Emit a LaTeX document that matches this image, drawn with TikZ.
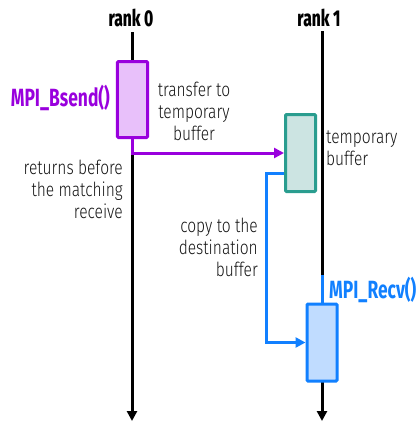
\documentclass[tikz,border=0pt]{standalone}
\usepackage{fontspec}
\setmainfont{Fira Sans}[FakeStretch=0.8,UprightFont=* Light]
\newfontfamily\condfont{Fira Sans}[FakeStretch=0.7]
\newfontfamily\rankfont{Fira Sans}[FakeStretch=0.68,UprightFont=* ExtraBold]
\usetikzlibrary{arrows.meta}
\definecolor{bpurple}{RGB}{153,0,221}
\definecolor{bpurplefill}{RGB}{232,192,250}
\definecolor{tteal}{RGB}{42,157,143}
\definecolor{ttealfill}{RGB}{204,228,226}
\definecolor{rblue}{RGB}{17,128,255}
\definecolor{rbluefill}{RGB}{192,220,255}
\definecolor{txt}{RGB}{20,20,20}
\tikzset{
  axis/.style={line width=3bp,black,-{Triangle[length=10bp,width=10bp]}},
  callbox/.style={draw,line width=3bp,rounded corners=1bp,minimum width=30bp,inner sep=0pt},
  lbl/.style={font=\fontsize{19.5}{22}\selectfont,text=txt,inner sep=0pt},
  ranklbl/.style={font=\rankfont\fontsize{23}{24}\selectfont,inner sep=0pt},
  fnlbl/.style={font=\condfont\fontsize{25}{26}\selectfont\bfseries,inner sep=0pt},
  conn/.style={line width=3bp,-{Triangle[length=10bp,width=10bp]}},
}
\begin{document}
\begin{tikzpicture}[x=1bp,y=-1bp]
\useasboundingbox (0,0) rectangle (419,425);
% ranks
\node[ranklbl] (rank0) at (131,18) {rank 0};
\node[ranklbl] (rank1) at (319,18) {rank 1};
\coordinate (r0top) at (132,32);
\coordinate (r0bot) at (132,421);
\coordinate (r1top) at (322,31);
\coordinate (r1bot) at (322,421);
\coordinate (recvstart) at (322,275);
\draw[axis] (r0top) -- (r0bot);
\draw[axis] (r1top) -- (r1bot);
% boxes
\node[callbox,draw=bpurple,fill=bpurplefill,minimum height=76bp] (bsend) at (132.5,99.5) {};
\node[callbox,draw=tteal,fill=ttealfill,minimum height=77bp] (tmp) at (300.5,153) {};
\node[callbox,draw=rblue,fill=rbluefill,minimum height=77bp] (recv) at (322,342.5) {};
% connectors
\draw[conn,bpurple] (bsend.south) |- (tmp.west);
\draw[conn,rblue] ([yshift=-20bp]tmp.west) -- ++(-18,0) |- (recv.west);
\draw[line width=3bp,rblue] (recvstart) -- (recv.north);
% labels
\node[fnlbl,text=bpurple,anchor=east] (bsendlbl) at (110,98) {MPI\_Bsend()};
\node[fnlbl,text=rblue,anchor=west] (recvlbl) at (329,290) {MPI\_Recv()};
\node[lbl,align=center,anchor=north] (xfer) at (194,82) {transfer to\\temporary\\buffer};
\node[lbl,align=left,anchor=north west] (tmplbl) at (326,131) {temporary\\buffer};
\node[lbl,align=right,anchor=north east] (ret) at (123,160) {returns before\\the matching\\receive};
\node[lbl,align=right,anchor=north east] (copy) at (258,218) {copy to the\\destination\\buffer};
\end{tikzpicture}
\end{document}
